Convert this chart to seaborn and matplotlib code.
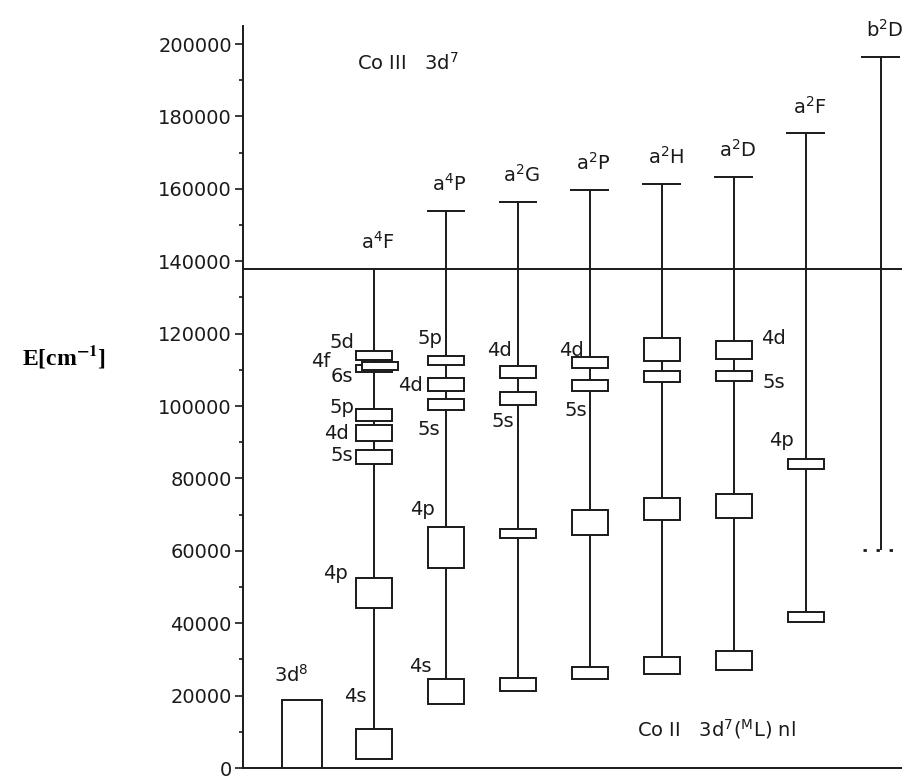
import numpy as np
import matplotlib.pyplot as plt
import seaborn as sns

# parent terms (Co III 3d7) and their energies in cm-1
columns = ["3d8", "a4F", "a4P", "a2G", "a2P", "a2H", "a2D", "a2F", "b2D"]
column_labels = [r"3d$^8$", r"a$^4$F", r"a$^4$P", r"a$^2$G", r"a$^2$P",
                 r"a$^2$H", r"a$^2$D", r"a$^2$F", r"b$^2$D"]
parent_limit = [None, 137795, 153800, 156300, 159600, 161300, 163200, 175300, 196400]
ionization = 137795
ground_3d8 = 18700
b2D_bottom = 60200

# Co II 3d7(ML) nl levels: column, configuration, lowest and highest energy
level_col = ["a4F"] * 8 + ["a4P"] * 5 + ["a2G"] * 4 + ["a2P"] * 4 + ["a2H"] * 4 + ["a2D"] * 4 + ["a2F"] * 2
level_nl = ["4s", "4p", "5s", "4d", "5p", "6s", "4f", "5d",
            "4s", "4p", "5s", "4d", "5p",
            "4s", "4p", "5s", "4d",
            "4s", "4p", "5s", "4d",
            "4s", "4p", "5s", "4d",
            "4s", "4p", "5s", "4d",
            "4s", "4p"]
level_lo = [2500, 44200, 84100, 90400, 95900, 109300, 110000, 112600,
            17600, 55200, 98900, 104100, 111300,
            21400, 63500, 100300, 107700,
            24500, 64300, 104100, 110400,
            26100, 68400, 106600, 112400,
            27200, 69000, 106900, 112900,
            40400, 82700]
level_hi = [10700, 52500, 87900, 94800, 99200, 111300, 112300, 115100,
            24700, 66500, 101900, 107700, 113700,
            25000, 65900, 103800, 111000,
            28000, 71400, 107100, 113500,
            30800, 74700, 109600, 118700,
            32400, 75800, 109600, 118100,
            43100, 85400]

# layout: column x positions and label placement (dx, y)
xpos = np.arange(len(columns), dtype=float)
xpos[-1] = 8.04
col_x = dict(zip(columns, xpos))
box_dx = {("a4F", "4f"): 0.08}
label_pos = {
    ("a4F", "5d"): (-0.45, 117600), ("a4F", "4f"): (-0.74, 112400),
    ("a4F", "6s"): (-0.45, 108200), ("a4F", "5p"): (-0.45, 99500),
    ("a4F", "4d"): (-0.52, 92300), ("a4F", "5s"): (-0.45, 86300),
    ("a4F", "4p"): (-0.54, 53800), ("a4F", "4s"): (-0.26, 19800),
    ("a4P", "5p"): (-0.22, 118700), ("a4P", "4d"): (-0.5, 105800),
    ("a4P", "5s"): (-0.24, 93400), ("a4P", "4p"): (-0.32, 71400),
    ("a4P", "4s"): (-0.36, 28000),
    ("a2G", "4d"): (-0.26, 115400), ("a2G", "5s"): (-0.21, 95600),
    ("a2P", "4d"): (-0.26, 115400), ("a2P", "5s"): (-0.2, 98900),
    ("a2D", "4d"): (0.55, 118700), ("a2D", "5s"): (0.55, 106600),
    ("a2F", "4p"): (-0.34, 90400),
}

sns.set_theme(style="ticks")
plt.rcParams["font.family"] = ["DejaVu Sans"]
ink = "#1a1a1a"
fs = 14

fig = plt.figure(figsize=(9.03, 7.80), dpi=100)
ax = fig.add_axes([243 / 903, 1 - 768 / 780, 1 - 243 / 903, (768 - 26) / 780])

# ionization limit of Co II
ax.axhline(ionization, color=ink, lw=1.4, zorder=1)

# vertical series lines and parent caps
for col, lim in zip(columns, parent_limit):
    if lim is None:
        continue
    x = col_x[col]
    lows = [lo for c, lo in zip(level_col, level_lo) if c == col]
    bottom = min(lows) if lows else b2D_bottom
    ax.vlines(x, bottom, lim, color=ink, lw=1.4, zorder=1)
    if col != "a4F":
        ax.hlines(lim, x - 0.27, x + 0.27, color=ink, lw=1.4, zorder=1)

ax.hlines(b2D_bottom, col_x["b2D"] - 0.25, col_x["b2D"] + 0.2, color=ink,
          lw=2, linestyles=(0, (1.2, 3.5)), zorder=1)

# 3d8 ground configuration
ax.bar(col_x["3d8"], ground_3d8, bottom=0, width=0.56, facecolor="white",
       edgecolor=ink, lw=1.4, zorder=3)

# Co II level boxes
for col, nl, lo, hi in zip(level_col, level_nl, level_lo, level_hi):
    x = col_x[col] + box_dx.get((col, nl), 0)
    ax.bar(x, hi - lo, bottom=lo, width=0.5, facecolor="white",
           edgecolor=ink, lw=1.4, zorder=3)
    if (col, nl) in label_pos:
        dx, y = label_pos[(col, nl)]
        ax.text(col_x[col] + dx, y, nl, fontsize=fs, ha="center", va="center",
                color=ink, zorder=4)

# column labels
for col, lab, lim in zip(columns, column_labels, parent_limit):
    if col == "3d8":
        ax.text(col_x[col] - 0.15, 25800, lab, fontsize=fs, ha="center",
                va="center", color=ink)
    else:
        top = lim if col != "a4F" else ionization
        ax.text(col_x[col] + 0.05, top + 7500, lab, fontsize=fs, ha="center",
                va="center", color=ink)

ax.text(0.76, 194900, r"Co III   3d$^7$", fontsize=fs, ha="left", va="center", color=ink)
ax.text(4.65, 10700, r"Co II   3d$^7$($^\mathrm{M}$L) nl", fontsize=fs, ha="left",
        va="center", color=ink)

fig.text(22 / 903, 1 - 357 / 780, r"E[cm$^{\mathbf{-1}}$]", fontsize=17,
         fontweight="bold", family="Liberation Serif", math_fontfamily="stix",
         ha="left", va="center", color="black")

ax.set_xlim(-0.82, 8.35)
ax.set_ylim(0, 205000)
ax.set_yticks(np.arange(0, 200001, 20000))
ax.set_yticks(np.arange(10000, 200000, 20000), minor=True)
ax.tick_params(axis="y", which="major", length=6, width=1.2, labelsize=fs,
               colors=ink, pad=2)
ax.tick_params(axis="y", which="minor", length=3, width=1.2, colors=ink)
ax.set_xticks([])
sns.despine(ax=ax)
for s in ["left", "bottom"]:
    ax.spines[s].set_color(ink)
    ax.spines[s].set_linewidth(1.4)

fig.savefig("out.png", dpi=100)
